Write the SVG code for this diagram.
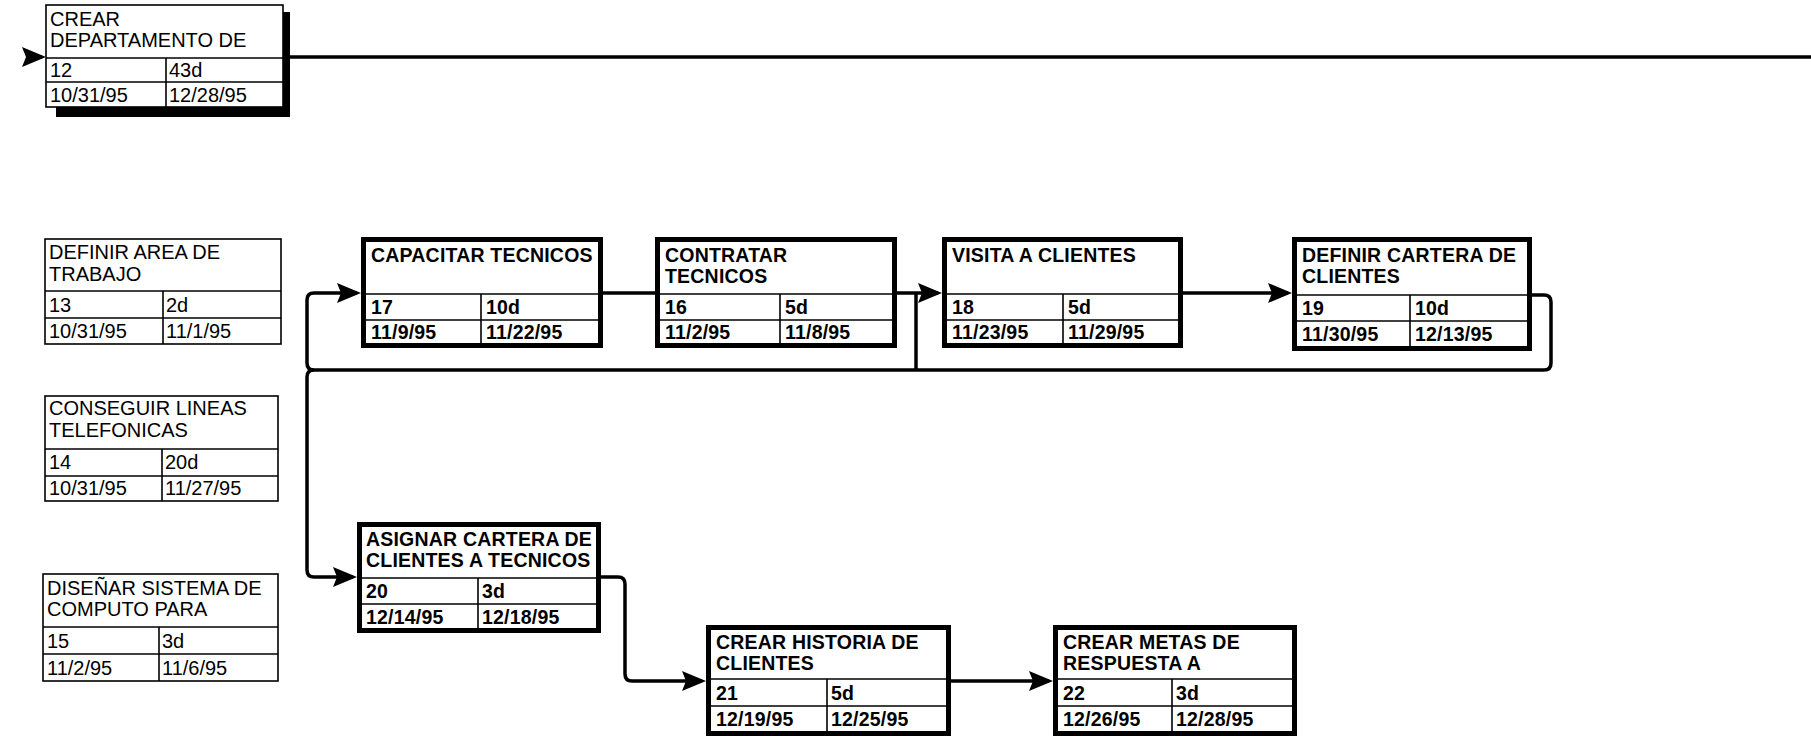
<svg xmlns="http://www.w3.org/2000/svg" width="1811" height="739" viewBox="0 0 1811 739">
<style>
.bg{fill:#fff}
.thin{fill:#fff;stroke:#000;stroke-width:1.6}
.thick{fill:#fff;stroke:#000;stroke-width:5}
.div{stroke:#000;stroke-width:1.6}
.t{font-family:"Liberation Sans",Arial,sans-serif;font-size:20px;fill:#000}
.b{font-weight:bold;font-size:19.5px;letter-spacing:0.2px}
.c{fill:none;stroke:#000;stroke-width:3.5;stroke-linejoin:round}
.ca{fill:none;stroke:#000;stroke-width:3.5;stroke-linejoin:round;marker-end:url(#ah)}
</style>
<defs>
<marker id="ah" markerUnits="userSpaceOnUse" markerWidth="26" markerHeight="22" refX="20" refY="10" orient="auto">
<path d="M0,0 L24,10 L0,20 L4,10 Z" fill="#000"/>
</marker>
</defs>
<rect class="bg" x="0" y="0" width="1811" height="739"/>

<g id="connectors">
<path class="ca" d="M30 57 H42"/>
<path class="c" d="M288 57 H1811"/>
<path class="c" d="M603 293 H655"/>
<path class="ca" d="M897 293 H938"/>
<path class="ca" d="M1183 293 H1288"/>
<path class="c" d="M916 370 V293"/>
<path class="c" d="M1532 295 H1544 Q1551 295 1551 302 V363 Q1551 370 1544 370 H314 Q307 370 307 363"/>
<path class="ca" d="M307 363 V300 Q307 293 314 293 H357"/>
<path class="ca" d="M314 370 Q307 370 307 377 V570 Q307 577 314 577 H353"/>
<path class="ca" d="M601 577 H618 Q625 577 625 584 V674 Q625 681 632 681 H702"/>
<path class="ca" d="M951 681 H1049"/>
</g>

<g id="n12">
<path d="M283 12 H290 V117 H56 V107 H283 Z" fill="#000"/>
<rect class="thin" x="46" y="5" width="237" height="102"/>
<line class="div" x1="46" y1="58" x2="283" y2="58"/>
<line class="div" x1="46" y1="82" x2="283" y2="82"/>
<line class="div" x1="166" y1="58" x2="166" y2="107"/>
<text class="t" x="50" y="26">CREAR</text>
<text class="t" x="50" y="47">DEPARTAMENTO DE</text>
<text class="t" x="50" y="77">12</text>
<text class="t" x="169" y="77">43d</text>
<text class="t" x="50" y="102">10/31/95</text>
<text class="t" x="169" y="102">12/28/95</text>
</g>

<g id="n13">
<rect class="thin" x="45" y="239" width="236" height="105"/>
<line class="div" x1="45" y1="291" x2="281" y2="291"/>
<line class="div" x1="45" y1="318" x2="281" y2="318"/>
<line class="div" x1="163" y1="291" x2="163" y2="344"/>
<text class="t" x="49" y="259">DEFINIR AREA DE</text>
<text class="t" x="49" y="281">TRABAJO</text>
<text class="t" x="49" y="312">13</text>
<text class="t" x="166" y="312">2d</text>
<text class="t" x="49" y="338">10/31/95</text>
<text class="t" x="166" y="338">11/1/95</text>
</g>

<g id="n14">
<rect class="thin" x="45" y="396" width="233" height="105"/>
<line class="div" x1="45" y1="449" x2="278" y2="449"/>
<line class="div" x1="45" y1="476" x2="278" y2="476"/>
<line class="div" x1="162" y1="449" x2="162" y2="501"/>
<text class="t" x="49" y="415">CONSEGUIR LINEAS</text>
<text class="t" x="49" y="437">TELEFONICAS</text>
<text class="t" x="49" y="469">14</text>
<text class="t" x="165" y="469">20d</text>
<text class="t" x="49" y="495">10/31/95</text>
<text class="t" x="165" y="495">11/27/95</text>
</g>

<g id="n15">
<rect class="thin" x="43" y="574" width="235" height="107"/>
<line class="div" x1="43" y1="627" x2="278" y2="627"/>
<line class="div" x1="43" y1="654" x2="278" y2="654"/>
<line class="div" x1="159" y1="627" x2="159" y2="681"/>
<text class="t" x="47" y="595">DISEÑAR SISTEMA DE</text>
<text class="t" x="47" y="616">COMPUTO PARA</text>
<text class="t" x="47" y="648">15</text>
<text class="t" x="162" y="648">3d</text>
<text class="t" x="47" y="675">11/2/95</text>
<text class="t" x="162" y="675">11/6/95</text>
</g>

<g id="n17">
<rect class="thick" x="363.5" y="239.5" width="237" height="106"/>
<line class="div" x1="363" y1="294" x2="601" y2="294"/>
<line class="div" x1="363" y1="320" x2="601" y2="320"/>
<line class="div" x1="481" y1="294" x2="481" y2="346"/>
<text class="t b" x="371" y="262">CAPACITAR TECNICOS</text>
<text class="t b" x="371" y="314">17</text>
<text class="t b" x="486" y="314">10d</text>
<text class="t b" x="371" y="339">11/9/95</text>
<text class="t b" x="486" y="339">11/22/95</text>
</g>

<g id="n16">
<rect class="thick" x="657.5" y="239.5" width="237" height="106"/>
<line class="div" x1="657" y1="294" x2="895" y2="294"/>
<line class="div" x1="657" y1="320" x2="895" y2="320"/>
<line class="div" x1="780" y1="294" x2="780" y2="346"/>
<text class="t b" x="665" y="262">CONTRATAR</text>
<text class="t b" x="665" y="283">TECNICOS</text>
<text class="t b" x="665" y="314">16</text>
<text class="t b" x="785" y="314">5d</text>
<text class="t b" x="665" y="339">11/2/95</text>
<text class="t b" x="785" y="339">11/8/95</text>
</g>

<g id="n18">
<rect class="thick" x="944.5" y="239.5" width="236" height="106"/>
<line class="div" x1="944" y1="294" x2="1181" y2="294"/>
<line class="div" x1="944" y1="320" x2="1181" y2="320"/>
<line class="div" x1="1063" y1="294" x2="1063" y2="346"/>
<text class="t b" x="952" y="262">VISITA A CLIENTES</text>
<text class="t b" x="952" y="314">18</text>
<text class="t b" x="1068" y="314">5d</text>
<text class="t b" x="952" y="339">11/23/95</text>
<text class="t b" x="1068" y="339">11/29/95</text>
</g>

<g id="n19">
<rect class="thick" x="1294.5" y="239.5" width="235" height="109"/>
<line class="div" x1="1294" y1="295" x2="1530" y2="295"/>
<line class="div" x1="1294" y1="321" x2="1530" y2="321"/>
<line class="div" x1="1410" y1="295" x2="1410" y2="349"/>
<text class="t b" x="1302" y="262">DEFINIR CARTERA DE</text>
<text class="t b" x="1302" y="283">CLIENTES</text>
<text class="t b" x="1302" y="315">19</text>
<text class="t b" x="1415" y="315">10d</text>
<text class="t b" x="1302" y="341">11/30/95</text>
<text class="t b" x="1415" y="341">12/13/95</text>
</g>

<g id="n20">
<rect class="thick" x="359.5" y="524.5" width="239" height="106"/>
<line class="div" x1="359" y1="578" x2="599" y2="578"/>
<line class="div" x1="359" y1="604" x2="599" y2="604"/>
<line class="div" x1="478" y1="578" x2="478" y2="631"/>
<text class="t b" x="366" y="546">ASIGNAR CARTERA DE</text>
<text class="t b" x="366" y="567">CLIENTES A TECNICOS</text>
<text class="t b" x="366" y="598">20</text>
<text class="t b" x="482" y="598">3d</text>
<text class="t b" x="366" y="624">12/14/95</text>
<text class="t b" x="482" y="624">12/18/95</text>
</g>

<g id="n21">
<rect class="thick" x="708.5" y="627.5" width="240" height="106"/>
<line class="div" x1="708" y1="679" x2="949" y2="679"/>
<line class="div" x1="708" y1="706" x2="949" y2="706"/>
<line class="div" x1="827" y1="679" x2="827" y2="734"/>
<text class="t b" x="716" y="649">CREAR HISTORIA DE</text>
<text class="t b" x="716" y="670">CLIENTES</text>
<text class="t b" x="716" y="700">21</text>
<text class="t b" x="831" y="700">5d</text>
<text class="t b" x="716" y="726">12/19/95</text>
<text class="t b" x="831" y="726">12/25/95</text>
</g>

<g id="n22">
<rect class="thick" x="1055.5" y="627.5" width="239" height="106"/>
<line class="div" x1="1055" y1="679" x2="1295" y2="679"/>
<line class="div" x1="1055" y1="706" x2="1295" y2="706"/>
<line class="div" x1="1172" y1="679" x2="1172" y2="734"/>
<text class="t b" x="1063" y="649">CREAR METAS DE</text>
<text class="t b" x="1063" y="670">RESPUESTA A</text>
<text class="t b" x="1063" y="700">22</text>
<text class="t b" x="1176" y="700">3d</text>
<text class="t b" x="1063" y="726">12/26/95</text>
<text class="t b" x="1176" y="726">12/28/95</text>
</g>
</svg>
